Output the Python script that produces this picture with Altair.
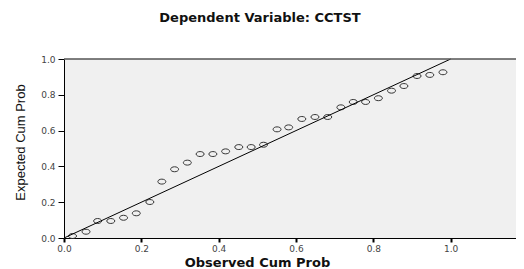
import altair as alt
import pandas as pd

observed = [0.022, 0.057, 0.087, 0.121, 0.154, 0.187, 0.222, 0.253, 0.286, 0.319,
            0.352, 0.385, 0.418, 0.452, 0.484, 0.516, 0.551, 0.581, 0.615, 0.649,
            0.682, 0.716, 0.748, 0.780, 0.813, 0.847, 0.879, 0.913, 0.946, 0.980]
expected = [0.011, 0.035, 0.095, 0.095, 0.113, 0.138, 0.201, 0.315, 0.384, 0.421,
            0.469, 0.469, 0.484, 0.508, 0.508, 0.521, 0.607, 0.618, 0.665, 0.676,
            0.676, 0.730, 0.760, 0.760, 0.781, 0.823, 0.849, 0.905, 0.911, 0.926]
line_x = [0.0, 1.0]
line_y = [0.0, 1.0]
x_ticks = [0.0, 0.2, 0.4, 0.6, 0.8, 1.0]
y_ticks = [0.0, 0.2, 0.4, 0.6, 0.8, 1.0]

W, H = 452, 179

pts = pd.DataFrame({"obs": observed, "exp": expected})
ref = pd.DataFrame({"obs": line_x, "exp": line_y})

xs = alt.Scale(domain=[0, 1.1689], nice=False, zero=False)
ys = alt.Scale(domain=[0, 1], nice=False)

xaxis = alt.Axis(
    title="Observed Cum Prob", values=x_ticks, format=".1f", grid=False,
    labelOverlap=False, labelFlush=False,
    tickSize=4, tickWidth=2, tickColor="black", domainColor="black",
    labelFont="DejaVu Sans", labelFontSize=9, labelColor="#444", labelPadding=2,
    titleFont="DejaVu Sans", titleFontSize=13, titleFontWeight="bold", titleColor="#111",
    titleX=193, titleY=28, titleBaseline="alphabetic", titleAlign="center",
)
yaxis = alt.Axis(
    title="Expected Cum Prob", values=y_ticks, format=".1f", grid=False,
    labelOverlap=False, labelFlush=False, labelBound=False,
    tickSize=6, tickWidth=1, tickColor="black", domainColor="black",
    labelFont="DejaVu Sans", labelFontSize=9, labelColor="#444", labelPadding=3,
    titleFont="Liberation Sans Narrow, Liberation Sans", titleFontSize=13,
    titleFontWeight="normal", titleColor="#111", titleAngle=-90,
    titleX=-40, titleY=83, titleBaseline="alphabetic", titleAlign="center",
)

ellipse = "M-1,0A1,0.62 0 1,0 1,0A1,0.62 0 1,0 -1,0Z"

points = alt.Chart(pts).mark_point(
    shape=ellipse, size=64, filled=False, stroke="#333", strokeWidth=1, opacity=1
).encode(
    x=alt.X("obs:Q", scale=xs, axis=xaxis),
    y=alt.Y("exp:Q", scale=ys, axis=yaxis),
)

diag = alt.Chart(ref).mark_line(color="black", strokeWidth=1).encode(
    x=alt.X("obs:Q", scale=xs, axis=xaxis),
    y=alt.Y("exp:Q", scale=ys, axis=yaxis),
)

# top frame line of the plot area (the right side is cut off in the reference)
top_border = alt.Chart(ref).mark_rule(color="#555", strokeWidth=1).encode(
    x=alt.value(0), x2=alt.value(W), y=alt.value(0)
)

chart = alt.layer(points, diag, top_border).properties(
    width=W, height=H,
    background="white",
    title=alt.TitleParams(
        "Dependent Variable: CCTST", font="DejaVu Sans", fontSize=13,
        fontWeight="bold", color="#111", anchor="middle", frame="group",
        dx=-30, offset=20, baseline="alphabetic",
    ),
    autosize=alt.AutoSizeParams(type="none"),
    padding={"left": 56, "top": 51, "right": 0, "bottom": 31},
).configure_view(
    fill="#f0f0f0", stroke=None
)

chart.save("out.html", embed_options={"renderer": "svg", "actions": False})
